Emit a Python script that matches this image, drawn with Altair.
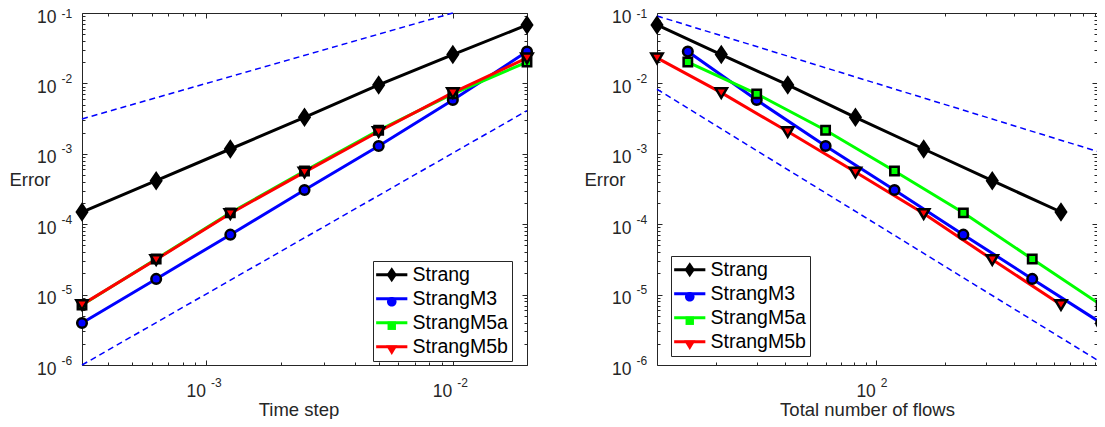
import json
import altair as alt
import pandas as pd

# ---------------- data ----------------
series_names = ["Strang", "StrangM3", "StrangM5a", "StrangM5b"]
time_steps = [0.02, 0.01, 0.005, 0.0025, 0.00125, 0.000625, 0.0003125]
flows_strang = [11, 21, 41, 81, 161, 321, 641]
flows_m3 = [15, 30, 60, 120, 240, 480, 960]
flows_m5a = [15, 30, 60, 120, 240, 480, 960]
flows_m5b = [11, 21, 41, 81, 161, 321, 641]
err_strang = [0.0676, 0.0257, 0.0095, 0.0033, 0.00117, 4.15e-4, 1.49e-4]
err_m3 = [0.0283, 0.0058, 0.00129, 3.06e-4, 7.1e-5, 1.67e-5, 3.95e-6]
err_m5a = [0.0201, 0.0071, 0.00216, 5.7e-4, 1.45e-4, 3.2e-5, 7.1e-6]
err_m5b = [0.0230, 0.0074, 0.00207, 5.5e-4, 1.42e-4, 3.15e-5, 7.2e-6]

# reference slopes (dashed)
ref_l_up_x = [0.0003125, 0.01]
ref_l_up_y = [0.003125, 0.1]
ref_l_lo_x = [0.0003125, 0.02]
ref_l_lo_y = [1e-6, 0.0041]
ref_r_up_x = [11, 921]
ref_r_up_y = [0.0909, 0.001086]
ref_r_lo_x = [11, 921]
ref_r_lo_y = [0.00826, 1.18e-6]

# axis labels
y_label_values = [1e-6, 1e-5, 1e-4, 1e-3, 1e-2, 1e-1]
y_label_exps = ["-6", "-5", "-4", "-3", "-2", "-1"]
x_left_label_values = [1e-3, 1e-2]
x_left_label_exps = ["-3", "-2"]
x_right_label_values = [100]
x_right_label_exps = ["2"]

# ---------------- style / layout ----------------
FONT = "Liberation Sans, Arial, Helvetica, sans-serif"
AX = "#262626"
colors = ["#000000", "#0000ff", "#00ff00", "#ff0000"]
shape_paths = [
    "M0,-1.25L0.85,0L0,1.25L-0.85,0Z",
    "M0.8,0A0.8,0.8,0,1,1,-0.8,0A0.8,0.8,0,1,1,0.8,0Z",
    "M-0.7,-0.7L0.7,-0.7L0.7,0.7L-0.7,0.7Z",
    "M-0.95,-0.72L0.95,-0.72L0,0.88Z",
]
H = 352
W_TOTAL = 1015           # left plot left edge -> right plot right edge
LEFT_RANGE = [0, 445]
RIGHT_RANGE = [575, 1015]
MAJOR_TEST = "abs(log(datum.value)/LN10 - round(log(datum.value)/LN10)) < 0.01"
TICK_SIZE = {"condition": {"test": MAJOR_TEST, "value": 5}, "value": 3}


def ticks_between(lo, hi, decades):
    out = []
    for e in decades:
        for m in range(1, 10):
            v = m * 10.0 ** e
            if lo * (1 - 1e-9) <= v <= hi * (1 + 1e-9):
                out.append(v)
    return out


def frame(xs_list):
    rows = []
    for name, xs, ys in zip(series_names, xs_list, [err_strang, err_m3, err_m5a, err_m5b]):
        for x, y in zip(xs, ys):
            rows.append({"x": x, "err": y, "series": name, "series_m": name})
    return pd.DataFrame(rows)


def exp_expr(vals, exps):
    return f"{json.dumps(exps)}[indexof({json.dumps(vals)}, datum.value)]"


def panel(df, up_x, up_y, lo_x, lo_y, xdom, xrange, xlab_vals, xlab_exps,
          xtitle, xtitle_x, xtitle_y, leg_x, leg_y):
    x0, x1 = xrange
    xs = alt.Scale(type="log", domain=xdom, range=xrange, nice=False)
    ys = alt.Scale(type="log", domain=[1e-6, 0.1], nice=False)
    x_ticks = ticks_between(xdom[0], xdom[1], [-5, -4, -3, -2, -1, 0, 1, 2, 3])
    y_ticks = ticks_between(1e-6, 0.1, [-6, -5, -4, -3, -2, -1])

    common_lab = dict(labelFont=FONT, labelColor=AX, labelFlush=False,
                      labelOverlap=False, grid=False)
    ax_x_main = alt.Axis(orient="bottom", values=xlab_vals, labelExpr="'10'",
                         labelAlign="right", labelBaseline="alphabetic",
                         labelOffset=-1, labelPadding=31, labelFontSize=17.5,
                         ticks=False, tickSize=0, domain=True, domainColor=AX,
                         domainWidth=1, title=xtitle, titleX=xtitle_x,
                         titleY=xtitle_y, titleAlign="center",
                         titleBaseline="alphabetic", titleFont=FONT,
                         titleFontSize=18.5, titleFontWeight="normal",
                         titleColor=AX, **common_lab)
    ax_y_main = alt.Axis(orient="left", offset=-x0, values=y_label_values,
                         labelExpr="'10'", labelAlign="right",
                         labelBaseline="alphabetic", labelOffset=9,
                         labelPadding=26, labelFontSize=17.5,
                         ticks=False, tickSize=0, domain=True, domainColor=AX,
                         domainWidth=1, title="Error", titleAngle=0,
                         titleAlign="right", titleBaseline="alphabetic",
                         titleX=-32, titleY=172, titleFont=FONT,
                         titleFontSize=18.5, titleFontWeight="normal",
                         titleColor=AX, **common_lab)
    ax_x_exp = alt.Axis(orient="bottom", values=xlab_vals,
                        labelExpr=exp_expr(xlab_vals, xlab_exps),
                        labelAlign="left", labelBaseline="alphabetic",
                        labelOffset=4, labelPadding=21, labelFontSize=12,
                        ticks=False, tickSize=0, domain=False, title=None,
                        **common_lab)
    ax_y_exp = alt.Axis(orient="left", offset=-x0, values=y_label_values,
                        labelExpr=exp_expr(y_label_values, y_label_exps),
                        labelAlign="left", labelBaseline="alphabetic",
                        labelOffset={"condition": {"test": "datum.value > 0.05", "value": 4},
                                     "value": -1},
                        labelPadding=21, labelFontSize=12,
                        ticks=False, tickSize=0, domain=False, title=None,
                        **common_lab)
    tick_common = dict(labels=False, ticks=True, tickSize=TICK_SIZE, tickColor=AX,
                       tickWidth=1, grid=False, title=None)
    ax_x_in_bottom = alt.Axis(orient="top", offset=-H, values=x_ticks,
                              domain=False, **tick_common)
    ax_x_in_top = alt.Axis(orient="bottom", offset=-H, values=x_ticks,
                           domain=True, domainColor=AX, domainWidth=1, **tick_common)
    ax_y_in_left = alt.Axis(orient="right", offset=-(W_TOTAL - x0), values=y_ticks,
                            domain=False, **tick_common)
    ax_y_in_right = alt.Axis(orient="left", offset=-x1, values=y_ticks,
                             domain=True, domainColor=AX, domainWidth=1, **tick_common)

    leg_common = dict(orient="none", legendX=leg_x, legendY=leg_y, title=None,
                      padding=4, rowPadding=3, labelFont=FONT, labelFontSize=19.5,
                      labelOffset=11, labelLimit=400, symbolSize=144,
                      symbolOffset=5)
    line_legend = alt.Legend(symbolType="M-2.6,0H2.6", symbolStrokeWidth=3,
                             fillColor="white", strokeColor=AX, labelColor="#000000",
                             **leg_common)
    mark_legend = alt.Legend(symbolStrokeWidth=2.5, symbolStrokeColor="#000000",
                             labelExpr="' '", labelColor="#000000", **leg_common)

    up_df = pd.DataFrame({"x": up_x, "err": up_y})
    lo_df = pd.DataFrame({"x": lo_x, "err": lo_y})

    dash_up = alt.Chart(up_df).mark_line(color="#0000ff", strokeWidth=1.5,
                                         strokeDash=[6, 4]).encode(
        x=alt.X("x:Q", scale=xs, axis=ax_x_in_top),
        y=alt.Y("err:Q", scale=ys, axis=ax_y_in_left),
    )
    dash_lo = alt.Chart(lo_df).mark_line(color="#0000ff", strokeWidth=1.5,
                                         strokeDash=[6, 4]).encode(
        x=alt.X("x:Q", scale=xs, axis=ax_x_in_bottom),
        y=alt.Y("err:Q", scale=ys, axis=ax_y_in_right),
    )
    lines = alt.Chart(df).mark_line(strokeWidth=3).encode(
        x=alt.X("x:Q", scale=xs, axis=ax_x_main),
        y=alt.Y("err:Q", scale=ys, axis=ax_y_main),
        color=alt.Color("series:N", scale=alt.Scale(range=colors), legend=line_legend),
    )
    points = alt.Chart(df).mark_point(filled=True, size=144, stroke="#000000",
                                      strokeWidth=2.5, opacity=1).encode(
        x=alt.X("x:Q", scale=xs, axis=ax_x_exp),
        y=alt.Y("err:Q", scale=ys, axis=ax_y_exp),
        fill=alt.Fill("series_m:N", scale=alt.Scale(range=colors), legend=mark_legend),
        shape=alt.Shape("series_m:N", scale=alt.Scale(range=shape_paths), legend=mark_legend),
    )
    return [dash_up, dash_lo], [lines, points]


l_dash, l_data = panel(frame([time_steps] * 4), ref_l_up_x, ref_l_up_y,
                       ref_l_lo_x, ref_l_lo_y, [0.0003125, 0.02], LEFT_RANGE,
                       x_left_label_values, x_left_label_exps,
                       "Time step", 216.5, 50, 291, 248)
r_dash, r_data = panel(frame([flows_strang, flows_m3, flows_m5a, flows_m5b]),
                       ref_r_up_x, ref_r_up_y, ref_r_lo_x, ref_r_lo_y,
                       [11, 921], RIGHT_RANGE, x_right_label_values,
                       x_right_label_exps, "Total number of flows", 785, 50, 589, 243)

chart = (
    alt.layer(*l_dash, *r_dash, *l_data, *r_data)
    .resolve_scale(x="independent", color="independent", fill="independent",
                   shape="independent")
    .resolve_axis(x="independent", y="independent")
    .resolve_legend(color="independent", fill="independent", shape="independent")
    .properties(width=W_TOTAL, height=H,
                autosize=alt.AutoSizeParams(type="none"),
                padding={"left": 74, "top": 5, "right": 0, "bottom": 54},
                background="white")
    .configure_view(stroke=None)
)

chart.save("out.html", embed_options={"renderer": "svg", "actions": False})
